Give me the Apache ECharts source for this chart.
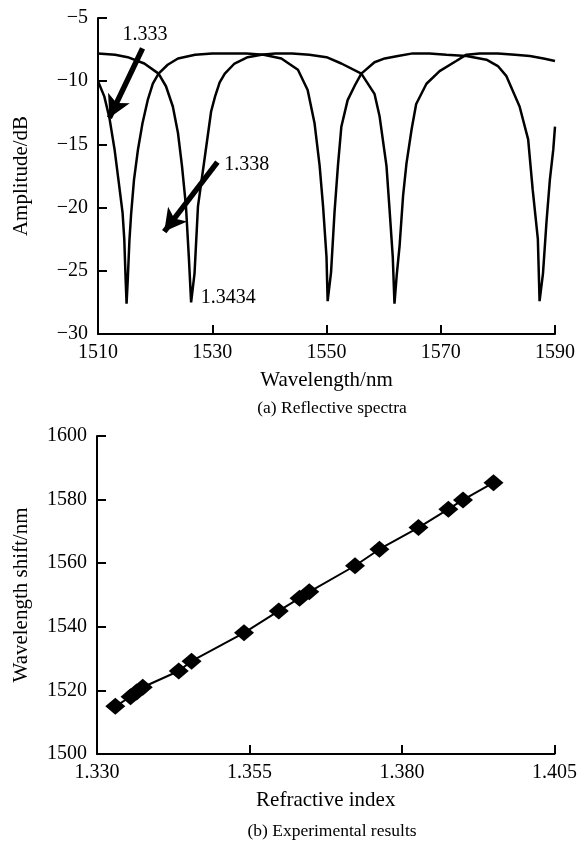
<!DOCTYPE html>
<html>
<head>
<meta charset="utf-8">
<script src="https://cdn.jsdelivr.net/npm/echarts@6/dist/echarts.min.js"></script>
<style>
  html, body { margin: 0; padding: 0; background: #fff; }
  #container { width: 580px; height: 848px; }
</style>
</head>
<body>
<div id="container"></div>
<script>
var dom = document.getElementById('container');
var myChart = echarts.init(dom);

// (a) reflective spectra
var waveA = [1510, 1511.1, 1512, 1512.9, 1513.8, 1514.3, 1514.6, 1514.8, 1515, 1515.2,
    1515.5, 1515.8, 1516.3, 1517, 1517.8, 1518.7, 1519.6, 1520.6, 1522.2, 1524,
    1527, 1530, 1533, 1536, 1539, 1542.1, 1545, 1546.7, 1547.9, 1548.8,
    1549.4, 1550, 1550.2, 1550.8, 1551.4, 1552, 1552.6, 1553.7, 1555, 1556.1,
    1558.4, 1560.2, 1562.5, 1565.1, 1568, 1571, 1574.5, 1578, 1580, 1581.5,
    1583.8, 1585.3, 1586.1, 1587, 1587.3, 1587.9, 1588.5, 1589.1, 1589.7, 1590];
var ampA = [-10, -11.2, -12.9, -15.4, -18.6, -20.4, -22.5, -25.2, -27.6, -25.8,
    -22.6, -20.5, -17.8, -15.4, -13.3, -11.5, -10.2, -9.4, -8.7, -8.2,
    -7.9, -7.8, -7.8, -7.8, -7.9, -8.2, -9.1, -10.7, -13.3, -16.7,
    -19.9, -23.9, -27.4, -25.1, -20.4, -16.7, -13.6, -11.5, -10.3, -9.4,
    -8.5, -8.2, -8.0, -7.8, -7.8, -7.9, -8.0, -8.3, -8.8, -9.6,
    -12, -14.6, -18.6, -22.5, -27.4, -25.2, -21.2, -17.8, -15.4, -13.6];

var waveB = [1510, 1513, 1515.2, 1518.1, 1520.6, 1521.9, 1523.1, 1524, 1524.7, 1525.4,
    1525.9, 1526.3, 1526.9, 1527.5, 1528.7, 1529.8, 1530.5, 1531.3, 1532.2, 1533.9,
    1536.2, 1538.6, 1541, 1544, 1547, 1550, 1552.6, 1556.1, 1558.4, 1559.3,
    1560.5, 1561, 1561.6, 1561.9, 1562.3, 1562.8, 1563.4, 1564, 1564.9, 1565.7,
    1567.5, 1569.8, 1572.7, 1574.5, 1576.8, 1580, 1583, 1585.6, 1588, 1590];
var ampB = [-7.8, -7.9, -8.1, -8.6, -9.4, -10.4, -12, -14.1, -16.7, -19.9,
    -23.9, -27.5, -25.2, -19.9, -16, -12.4, -11.2, -10.1, -9.4, -8.6,
    -8.1, -7.9, -7.8, -7.8, -7.9, -8.1, -8.6, -9.4, -11, -12.8,
    -16.7, -19.9, -23.9, -27.6, -25.3, -23, -19.1, -16.5, -13.8, -11.8,
    -10.2, -9.2, -8.4, -7.9, -7.8, -7.8, -7.9, -8.0, -8.2, -8.4];

// (b) experimental results
var riIndex = [1.333, 1.3355, 1.3365, 1.3375, 1.3434, 1.3455, 1.3541, 1.3598,
    1.3632, 1.3648, 1.3723, 1.3763, 1.3827, 1.3876, 1.39, 1.395];
var riShift = [1515, 1518, 1519.5, 1521, 1526.1, 1529.2, 1538.1, 1545,
    1549, 1551, 1559.2, 1564.4, 1571.2, 1577, 1579.9, 1585.3];

var font = 'Liberation Serif';

function zip(xs, ys) {
    return xs.map(function (x, i) { return [x, ys[i]]; });
}

function plain(v) {
    return v < 0 ? '\u2212' + (-v) : String(v);
}

var axisLine = { lineStyle: { color: '#000', width: 2 } };
var axisTick = { inside: true, length: 9, lineStyle: { color: '#000', width: 2 } };
var label = { color: '#000', fontFamily: font, fontSize: 20 };
var nameStyle = { color: '#000', fontFamily: font, fontSize: 21 };
var capStyle = { color: '#000', fontFamily: font, fontSize: 17.5, fontWeight: 'normal' };

var option = {
    animation: false,
    backgroundColor: '#fff',
    title: [{
        text: '(a) Reflective spectra',
        left: 327, top: 394, textAlign: 'center', textStyle: capStyle
    }, {
        text: '(b) Experimental results',
        left: 327, top: 817, textAlign: 'center', textStyle: capStyle
    }],
    grid: [
        { left: 98, right: 25, top: 18, height: 316 },
        { left: 97, right: 25, top: 436, height: 318 }
    ],
    xAxis: [{
        gridIndex: 0, type: 'value', min: 1510, max: 1590, interval: 20,
        name: 'Wavelength/nm', nameLocation: 'middle', nameGap: 36, nameTextStyle: nameStyle,
        axisLine: axisLine, axisTick: axisTick, splitLine: { show: false },
        axisLabel: Object.assign({ margin: 9, formatter: plain }, label)
    }, {
        gridIndex: 1, type: 'value', min: 1.33, max: 1.405, interval: 0.025,
        name: 'Refractive index', nameLocation: 'middle', nameGap: 36, nameTextStyle: nameStyle,
        axisLine: axisLine, axisTick: axisTick, splitLine: { show: false },
        axisLabel: Object.assign({ margin: 9, formatter: function (v) { return v.toFixed(3); } }, label)
    }],
    yAxis: [{
        gridIndex: 0, type: 'value', min: -30, max: -5, interval: 5,
        name: 'Amplitude/dB', nameLocation: 'middle', nameGap: 66, nameTextStyle: nameStyle,
        axisLine: axisLine, axisTick: axisTick, splitLine: { show: false },
        axisLabel: Object.assign({ margin: 10, formatter: plain }, label)
    }, {
        gridIndex: 1, type: 'value', min: 1500, max: 1600, interval: 20,
        name: 'Wavelength shift/nm', nameLocation: 'middle', nameGap: 65, nameTextStyle: nameStyle,
        axisLine: axisLine, axisTick: axisTick, splitLine: { show: false },
        axisLabel: Object.assign({ margin: 10, formatter: plain }, label)
    }],
    series: [{
        name: '1.333', type: 'line', xAxisIndex: 0, yAxisIndex: 0,
        data: zip(waveA, ampA), showSymbol: false, smooth: false,
        lineStyle: { color: '#000', width: 2.5 },
        markLine: {
            silent: true, symbol: ['none', 'arrow'], symbolSize: [18, 22],
            lineStyle: { color: '#000', width: 5.5, type: 'solid' },
            label: { show: false },
            data: [
                [{ coord: [1517.8, -7.4] }, { coord: [1512, -12.9] }],
                [{ coord: [1530.9, -16.4] }, { coord: [1521.6, -21.9] }]
            ]
        },
        markPoint: {
            silent: true, symbol: 'circle', symbolSize: 0,
            label: { show: true, color: '#000', fontFamily: font, fontSize: 20, position: 'right', distance: 0 },
            data: [
                { coord: [1514.3, -6.3], value: '1.333' },
                { coord: [1532.1, -16.6], value: '1.338' },
                { coord: [1528.0, -27.1], value: '1.3434' }
            ]
        }
    }, {
        name: '1.3434', type: 'line', xAxisIndex: 0, yAxisIndex: 0,
        data: zip(waveB, ampB), showSymbol: false, smooth: false,
        lineStyle: { color: '#000', width: 2.5 }
    }, {
        name: 'shift', type: 'line', xAxisIndex: 1, yAxisIndex: 1,
        data: zip(riIndex, riShift),
        symbol: 'diamond', symbolSize: [20, 17],
        itemStyle: { color: '#000' },
        lineStyle: { color: '#000', width: 2 }
    }]
};

if (option && typeof option === 'object') {
    myChart.setOption(option, true);
}
</script>
</body>
</html>
